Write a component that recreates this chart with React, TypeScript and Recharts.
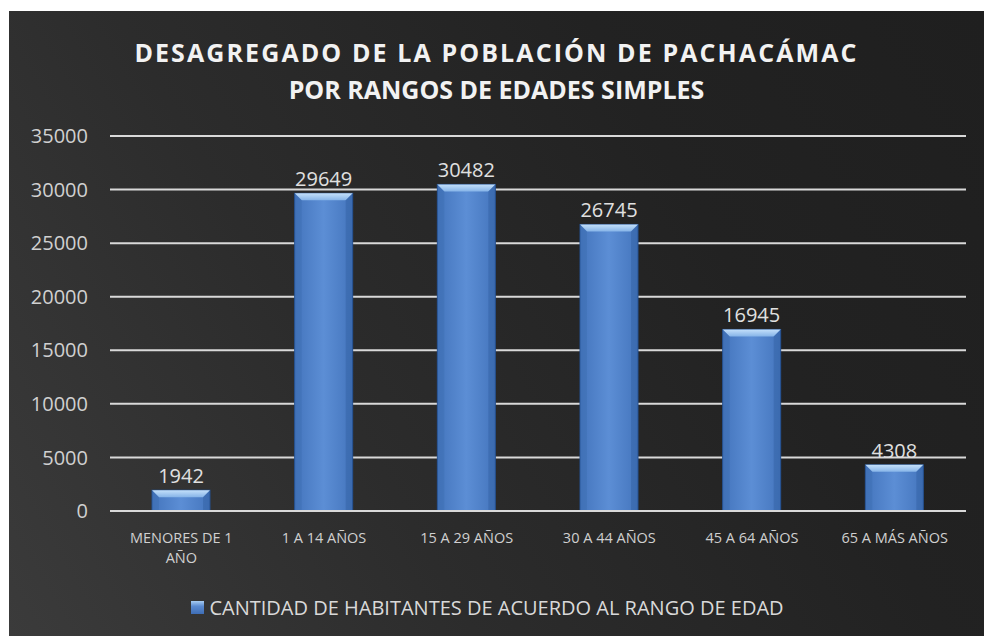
import React from "react";
import { BarChart, Bar, XAxis, YAxis, CartesianGrid, Legend, LabelList, Text } from "recharts";

const categories = ["MENORES DE 1 AÑO", "1 A 14 AÑOS", "15 A 29 AÑOS", "30 A 44 AÑOS", "45 A 64 AÑOS", "65 A MÁS AÑOS"];
const habitantes = [1942, 29649, 30482, 26745, 16945, 4308];
const yTicks = [0, 5000, 10000, 15000, 20000, 25000, 30000, 35000];
const seriesName = "CANTIDAD DE HABITANTES DE ACUERDO AL RANGO DE EDAD";

const data = categories.map((c, i) => ({ name: c, value: habitantes[i] }));

const FONT = "'Open Sans', sans-serif";

// bar with a light bevel on top, like the office "glass" preset
function BevelBar(props: any) {
  const { x, y, width, height } = props;
  if (!height || height <= 0) return null;
  const b = Math.min(7, height / 2);
  return (
    <g>
      <rect x={x} y={y} width={width} height={height} fill="url(#barGrad)" />
      <rect x={x} y={y} width={width} height={height} fill="none" stroke="#24508f" strokeWidth={1} />
      <polygon
        points={`${x},${y} ${x + width},${y} ${x + width - b},${y + b} ${x + b},${y + b}`}
        fill="url(#bevelGrad)"
      />
      <polygon points={`${x},${y} ${x + b},${y + b} ${x + b},${y + height} ${x},${y + height}`} fill="#3a69ad" opacity={0.35} />
      <polygon
        points={`${x + width},${y} ${x + width - b},${y + b} ${x + width - b},${y + height} ${x + width},${y + height}`}
        fill="#2c5898"
        opacity={0.35}
      />
    </g>
  );
}

function CatTick(props: any) {
  const { x, y, payload } = props;
  return (
    <Text
      x={x}
      y={y + 14}
      width={134}
      textAnchor="middle"
      verticalAnchor="start"
      fill="#d0d0d0"
      style={{ fontFamily: FONT, fontSize: 14.5 }}
      lineHeight={20}
    >
      {payload.value}
    </Text>
  );
}

function LegendBox() {
  return (
    <div
      style={{
        height: 30,
        display: "flex",
        alignItems: "center",
        justifyContent: "center",
        fontFamily: FONT,
        fontSize: 20,
        color: "#d9d9d9",
      }}
    >
      <span
        style={{
          width: 13,
          height: 13,
          marginRight: 5,
          background: "linear-gradient(180deg, #a8cdf2 0%, #5b8bd0 40%, #3e6db5 100%)",
          display: "inline-block",
        }}
      />
      {seriesName}
    </div>
  );
}

export default function App() {
  return (
    <div
      style={{
        position: "absolute",
        left: 9,
        top: 11,
        width: 975,
        height: 625,
        background: "linear-gradient(60deg, #3b3b3b 0%, #2c2c2c 35%, #222222 70%, #1f1f1f 100%)",
      }}
    >
      <div
        style={{
          position: "absolute",
          left: 0,
          top: 23,
          width: 975,
          textAlign: "center",
          fontFamily: FONT,
          fontWeight: 700,
          color: "#f2f2f2",
          fontSize: 25,
          lineHeight: "37px",
        }}
      >
        <div style={{ letterSpacing: 2.1 }}>DESAGREGADO DE LA POBLACIÓN DE PACHACÁMAC</div>
        <div>POR RANGOS DE EDADES SIMPLES</div>
      </div>
      <BarChart width={975} height={625} data={data} margin={{ top: 125, right: 18, left: 0, bottom: 14 }}>
        <defs>
          <linearGradient id="barGrad" x1="0" y1="0" x2="1" y2="0">
            <stop offset="0%" stopColor="#4475bd" />
            <stop offset="50%" stopColor="#5c8ed5" />
            <stop offset="100%" stopColor="#4475bd" />
          </linearGradient>
          <linearGradient id="bevelGrad" x1="0" y1="0" x2="0" y2="1">
            <stop offset="0%" stopColor="#c4e0fa" />
            <stop offset="100%" stopColor="#86b4e8" />
          </linearGradient>
        </defs>
        <CartesianGrid vertical={false} stroke="#d9d9d9" strokeWidth={2} />
        <XAxis
          dataKey="name"
          axisLine={{ stroke: "#d9d9d9", strokeWidth: 2 }}
          tickLine={false}
          height={81}
          interval={0}
          tick={<CatTick />}
        />
        <YAxis
          domain={[0, 35000]}
          ticks={yTicks}
          axisLine={false}
          tickLine={false}
          tickSize={0}
          tickMargin={22}
          width={101}
          tick={{ fill: "#d0d0d0", fontFamily: FONT, fontSize: 20 }}
        />
        <Legend verticalAlign="bottom" content={<LegendBox />} />
        <Bar dataKey="value" name={seriesName} barSize={58} shape={<BevelBar />} isAnimationActive={false}>
          <LabelList
            dataKey="value"
            position="top"
            offset={7}
            fill="#e0e0e0"
            style={{ fontFamily: FONT, fontSize: 20 }}
          />
        </Bar>
      </BarChart>
    </div>
  );
}
